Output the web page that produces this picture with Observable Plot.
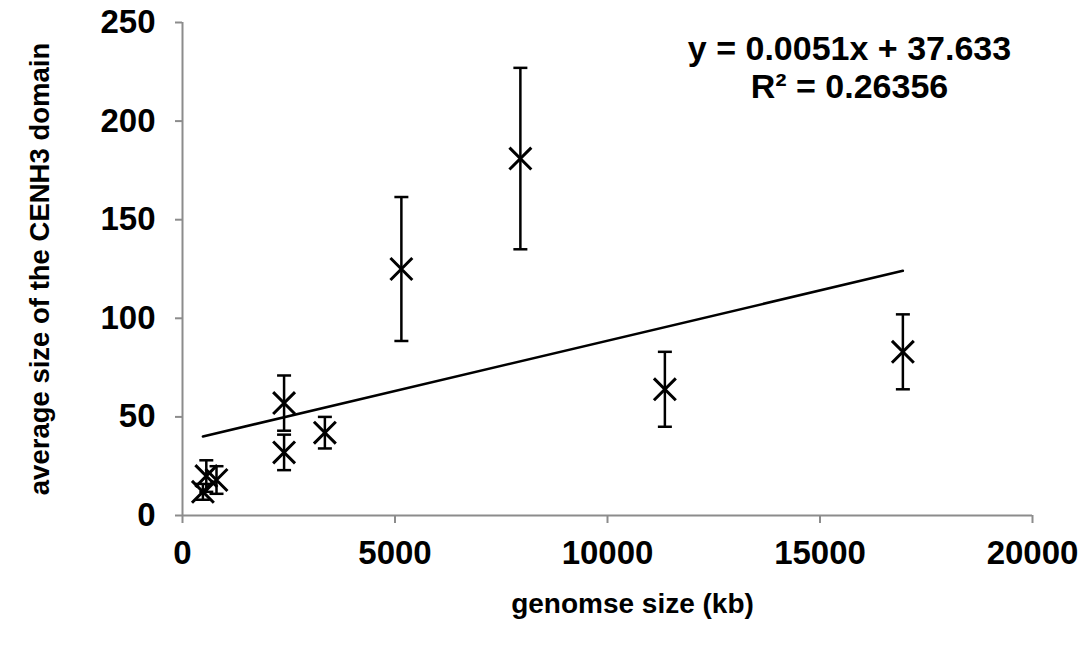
<!DOCTYPE html>
<html>
<head>
<meta charset="utf-8">
<script src="https://cdn.jsdelivr.net/npm/d3@7"></script>
<script src="https://cdn.jsdelivr.net/npm/@observablehq/plot@0.6"></script>
<style>
  html, body { margin: 0; padding: 0; background: #fff; }
  #chart svg { display: block; }
</style>
</head>
<body>
<div id="chart"></div>
<script>
// ---- data ----
const genomeSize = [480, 560, 800, 2390, 2390, 3350, 5150, 7950, 11350, 16950];   // kb
const cenh3Size  = [12, 20, 18, 57, 32, 42, 125, 181, 64, 83];
const errorSize  = [4, 8, 7, 14, 9, 8, 36.5, 46, 19, 19];
const xTicks = [0, 5000, 10000, 15000, 20000];
const yTicks = [0, 50, 100, 150, 200, 250];
const slope = 0.0051;
const intercept = 37.633;
const rSquared = "0.26356";
const xLabel = "genomse size (kb)";
const yLabel = "average size of the CENH3 domain";

const data = genomeSize.map((x, i) => ({x, y: cenh3Size[i], lo: cenh3Size[i] - errorSize[i], hi: cenh3Size[i] + errorSize[i]}));
const xMin = d3.min(genomeSize), xMax = d3.max(genomeSize);
const trend = [xMin, xMax].map(x => ({x, y: slope * x + intercept}));
const equation = `y = ${slope}x + ${intercept}\nR² = ${rSquared}`;

const capSymbol = { draw(ctx) { ctx.moveTo(-7, 0); ctx.lineTo(7, 0); } };
const font = "'Liberation Sans', Arial, Helvetica, sans-serif";
const axisGray = "#8c8c8c";

const chart = Plot.plot({
  width: 1089,
  height: 650,
  marginLeft: 182,
  marginRight: 57,
  marginTop: 22,
  marginBottom: 135,
  style: { fontFamily: font, background: "#fff", color: "#000" },
  x: { domain: [0, 20000], ticks: xTicks },
  y: { domain: [0, 250], ticks: yTicks },
  marks: [
    Plot.ruleX([0], { stroke: axisGray, strokeWidth: 2 }),
    Plot.ruleY([0], { stroke: axisGray, strokeWidth: 2 }),
    Plot.axisX(xTicks, {
      tickSize: 8, tickPadding: 17, stroke: axisGray, strokeWidth: 2, fill: "#000",
      tickFormat: d => String(d),
      fontSize: 33, fontWeight: "bold", label: null
    }),
    Plot.axisY(yTicks, {
      tickSize: 7, tickPadding: 20, stroke: axisGray, strokeWidth: 2, fill: "#000",
      tickFormat: d => String(d),
      fontSize: 33, fontWeight: "bold", label: null
    }),
    Plot.line(trend, { x: "x", y: "y", stroke: "#000", strokeWidth: 2.5 }),
    Plot.ruleX(data, { x: "x", y1: "lo", y2: "hi", stroke: "#000", strokeWidth: 2.5 }),
    Plot.dot(data, { x: "x", y: "lo", symbol: capSymbol, r: 5, stroke: "#000", strokeWidth: 2.5, fill: "none" }),
    Plot.dot(data, { x: "x", y: "hi", symbol: capSymbol, r: 5, stroke: "#000", strokeWidth: 2.5, fill: "none" }),
    Plot.dot(data, { x: "x", y: "y", symbol: "times", r: 10, stroke: "#000", strokeWidth: 3 }),
    Plot.text([equation], {
      frameAnchor: "top-right", dx: -183, dy: 10, textAnchor: "middle", lineAnchor: "top",
      lineHeight: 1.12, fontSize: 34, fontWeight: "bold", fill: "#000"
    }),
    Plot.text([xLabel], {
      frameAnchor: "bottom", dx: 25, dy: 97, textAnchor: "middle", lineAnchor: "bottom",
      fontSize: 28, fontWeight: "bold", fill: "#000"
    }),
    Plot.text([yLabel], {
      frameAnchor: "left", dx: -134, textAnchor: "middle", lineAnchor: "bottom", rotate: -90,
      fontSize: 27.5, fontWeight: "bold", fill: "#000"
    })
  ]
});
document.getElementById("chart").append(chart);
</script>
</body>
</html>
